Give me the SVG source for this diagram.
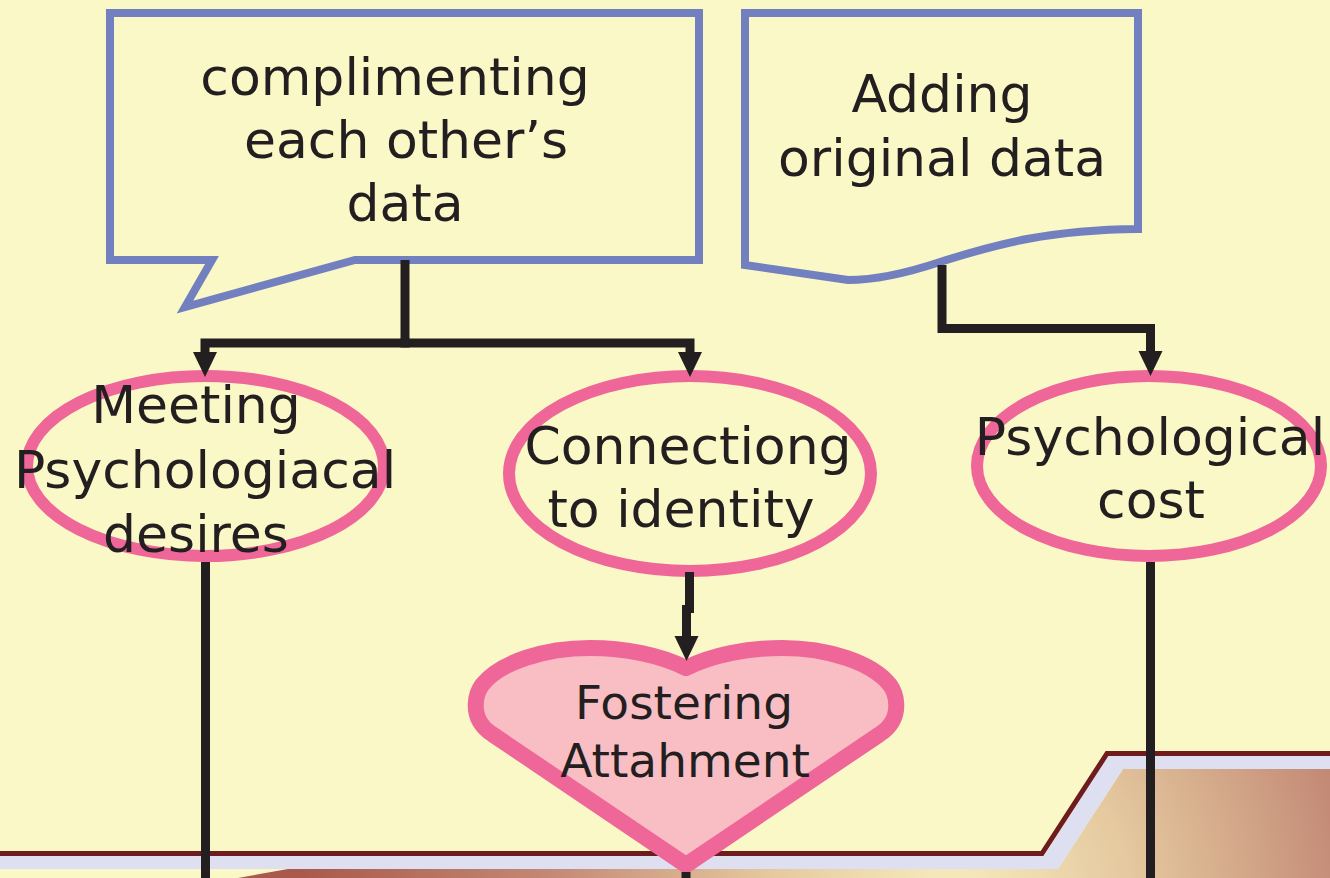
<svg xmlns="http://www.w3.org/2000/svg" width="1330" height="878" viewBox="0 0 1330 878">
  <style>
    .label { font-family: "DejaVu Sans", "Liberation Sans", sans-serif; font-size: 52px; fill: #231F20; text-anchor: middle; }
    .small { font-size: 47px; }
    .box { fill: #FAF8C6; stroke: #7380C0; stroke-width: 8; stroke-linejoin: miter; }
    .oval { fill: none; stroke: #EF6699; stroke-width: 12; }
    .heart { fill: #F9BEC3; stroke: #EF6699; stroke-width: 16; stroke-linejoin: round; }
    .wire { fill: none; stroke: #231F20; stroke-width: 9; stroke-linecap: butt; stroke-linejoin: miter; }
  </style>
  <defs>
    <marker id="arrow" markerUnits="userSpaceOnUse" markerWidth="26" markerHeight="26" viewBox="0 -13 26 26" refX="0" refY="0" orient="auto">
      <path d="M0,-12 L25,0 L0,12 Z" fill="#231F20"/>
    </marker>
    <radialGradient id="ground" gradientUnits="userSpaceOnUse" cx="950" cy="900" r="720">
      <stop offset="0" stop-color="#F7EDC0"/>
      <stop offset="0.25" stop-color="#E5C99F"/>
      <stop offset="0.55" stop-color="#C38A76"/>
      <stop offset="0.9" stop-color="#A95A4C"/>
    </radialGradient>
  </defs>

  <!-- backdrop -->
  <rect width="1330" height="878" fill="#FAF8C6"/>

  <!-- stepped floor band at the bottom -->
  <g id="floor">
    <path d="M238,878 L288,869 H1058 L1123,769 H1330 V878 Z" fill="url(#ground)"/>
    <path d="M0,856 H1044 L1108,756 H1330 V769 H1123 L1058,869 H0 Z" fill="#DEDFF0"/>
    <path d="M0,853.5 H1042 L1107,753.5 H1330" fill="none" stroke="#6E1C1E" stroke-width="5"/>
  </g>

  <g id="callout-complimenting">
    <path class="box" d="M110,13 H699 V260 H355 L185,307 L212,260 H110 Z"/>
    <text class="label" x="395" y="95">complimenting</text>
    <text class="label" x="406" y="158">each other’s</text>
    <text class="label" x="405" y="221">data</text>
  </g>

  <g id="doc-adding">
    <path class="box" d="M745,13 H1138 V229 C1050,230 1000,243 940,262 C910,272 880,280 848,280 L745,265 Z"/>
    <text class="label" x="942" y="112">Adding</text>
    <text class="label" x="942" y="176">original data</text>
  </g>

  <g id="oval-meeting">
    <ellipse class="oval" cx="205.5" cy="466" rx="178.5" ry="90"/>
    <text class="label" x="196" y="423">Meeting</text>
    <text class="label" x="205" y="488">Psychologiacal</text>
    <text class="label" x="196" y="552">desires</text>
  </g>

  <g id="oval-connecting">
    <ellipse class="oval" cx="690" cy="473.5" rx="181" ry="97.5"/>
    <text class="label" x="688" y="464">Connectiong</text>
    <text class="label" x="681" y="527">to identity</text>
  </g>

  <g id="oval-cost">
    <ellipse class="oval" cx="1149" cy="466" rx="172" ry="90"/>
    <text class="label" x="1150" y="455">Psychological</text>
    <text class="label" x="1151" y="518">cost</text>
  </g>

  <g id="heart-fostering">
    <path class="heart" d="M686,668 C660,655 625,648 590,648 C545,648 500,662 482,685 C474,696 474,712 480,722 C483,727 487,731 492,734 L686,865 L880,734 C885,731 889,727 892,722 C898,712 898,696 890,685 C872,662 827,648 782,648 C747,648 712,655 686,668 Z"/>
    <text class="label small" x="684" y="719">Fostering</text>
    <text class="label small" x="685" y="777">Attahment</text>
  </g>

  <g id="connectors">
    <path class="wire" d="M405,260 V343"/>
    <path class="wire" d="M409.5,343 H205 V352" marker-end="url(#arrow)"/>
    <path class="wire" d="M400.5,343 H690 V352" marker-end="url(#arrow)"/>
    <path class="wire" d="M942,265 V328.5 H1150.5 V351" marker-end="url(#arrow)"/>
    <path class="wire" d="M689.5,572 V613"/>
    <path class="wire" d="M686.5,605 V636" marker-end="url(#arrow)"/>
    <path class="wire" d="M205.5,562 V878"/>
    <path class="wire" d="M1150.5,562 V878"/>
    <path class="wire" d="M686,872 V878"/>
  </g>
</svg>
